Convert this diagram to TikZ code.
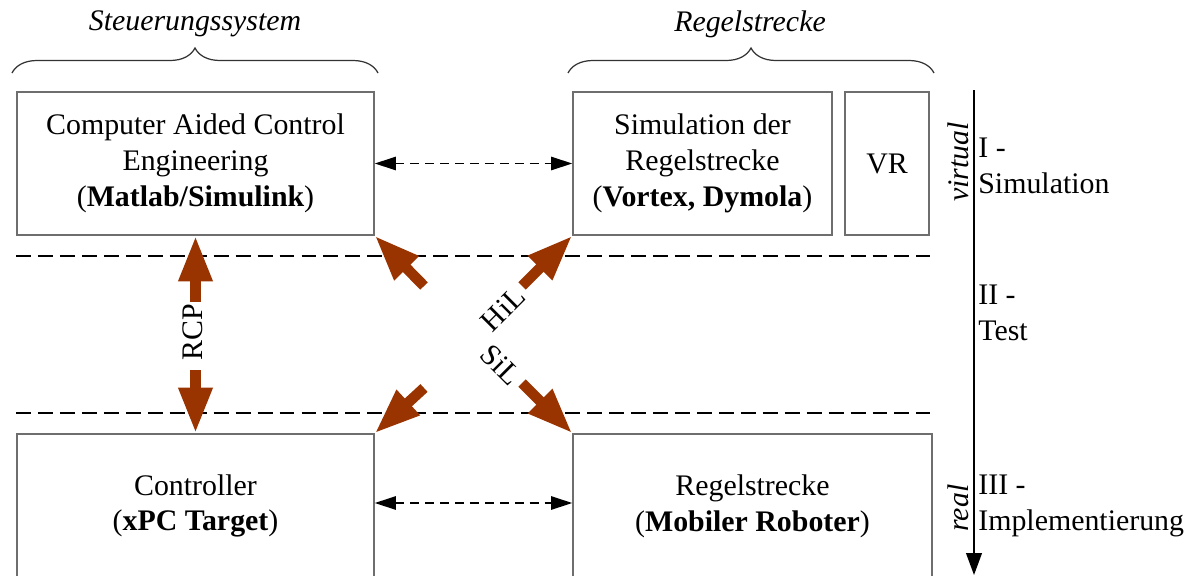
\documentclass[tikz,border=0pt]{standalone}
\usepackage{fontspec}
\setmainfont{Liberation Serif}
\usetikzlibrary{arrows.meta,decorations.pathreplacing}
\definecolor{rust}{RGB}{153,51,0}
\definecolor{boxgray}{RGB}{110,110,110}
\begin{document}
\begin{tikzpicture}[x=0.02cm,y=-0.02cm,
  font=\fontsize{17}{20.4}\selectfont,
  box/.style={draw=boxgray, line width=0.8pt, inner sep=0pt, align=center},
  big/.style={draw=rust, line width=6pt, -{Triangle[length=26pt,width=18pt]}},
  dbl/.style={black, line width=1.1pt, dash pattern=on 5pt off 3.5pt,
    {Triangle[length=12pt,width=7.5pt]}-{Triangle[length=12pt,width=7.5pt]}},
  sep/.style={black, line width=0.8pt, dash pattern=on 8.5pt off 4pt},
  axis/.style={black, line width=0.8pt, -{Triangle[length=12.5pt,width=9pt]}},
  brc/.style={draw=black!80, line width=0.7pt, decorate, decoration={brace, amplitude=0.5cm}},
  lbl/.style={inner sep=0pt, align=left, anchor=west}
]
\useasboundingbox (0,0) rectangle (1202,575);

% titles and braces
\node (steu) at (195,24) {\itshape Steuerungssystem};
\node (regt) at (750,24) {\itshape Regelstrecke};
\draw[brc] (12,73) -- (378,73);
\draw[brc] (568,73) -- (934,73);

% boxes
\node[box, minimum width=357*0.02cm, minimum height=143*0.02cm] (cace) at (195.5,163.5)
  {Computer Aided Control\\Engineering\\(\textbf{Matlab/Simulink})};
\node[box, minimum width=259*0.02cm, minimum height=143*0.02cm] (sim) at (702.5,163.5)
  {Simulation der\\Regelstrecke\\(\textbf{Vortex, Dymola})};
\node[box, minimum width=84*0.02cm, minimum height=143*0.02cm] (vr) at (887,163.5) {VR};
\node[box, minimum width=357*0.02cm, minimum height=144*0.02cm] (ctrl) at (195.5,506)
  {Controller\\(\textbf{xPC Target})};
\node[box, minimum width=359*0.02cm, minimum height=144*0.02cm] (plant) at (752.5,506)
  {Regelstrecke\\(\textbf{Mobiler Roboter})};

% separators
\draw[sep] (16,256) -- (930,256);
\draw[sep] (16,413) -- (930,413);

% dashed double arrows
\draw[dbl] (cace.east) -- (sim.west);
\draw[dbl] ([yshift=0.06cm]ctrl.east) -- ([yshift=0.06cm]plant.west);

% big brown arrows
\coordinate (rcpu) at (195.5,302);
\coordinate (rcpd) at (195.5,370);
\draw[big] (rcpu) -- (cace.south);
\draw[big] (rcpd) -- (ctrl.north);
\node[rotate=90, inner sep=0pt] (rcp) at (193,332) {RCP};

\coordinate (ul) at (424,286);
\coordinate (ll) at (424,388);
\coordinate (hil) at (522,286);
\coordinate (sil) at (522,383);
\draw[big] (ul) -- (cace.south east);
\draw[big] (ll) -- (ctrl.north east);
\draw[big] (hil) -- (sim.south west);
\draw[big] (sil) -- (plant.north west);
\node[rotate=45, inner sep=0pt] (hill) at (503,309) {HiL};
\node[rotate=-45, inner sep=0pt] (sill) at (501,365) {SiL};

% axis
\coordinate (axtop) at (974,90);
\coordinate (axbot) at (974,575);
\draw[axis] (axtop) -- (axbot);
\node[rotate=90, inner sep=0pt] (virt) at (958,162) {\itshape virtual};
\node[rotate=90, inner sep=0pt] (real) at (958,508) {\itshape real};
\node[lbl] (l1) at (978,166) {I -\\Simulation};
\node[lbl] (l2) at (978,313) {II -\\Test};
\node[lbl] (l3) at (978,506) {III -\\Implementierung};
\end{tikzpicture}
\end{document}
